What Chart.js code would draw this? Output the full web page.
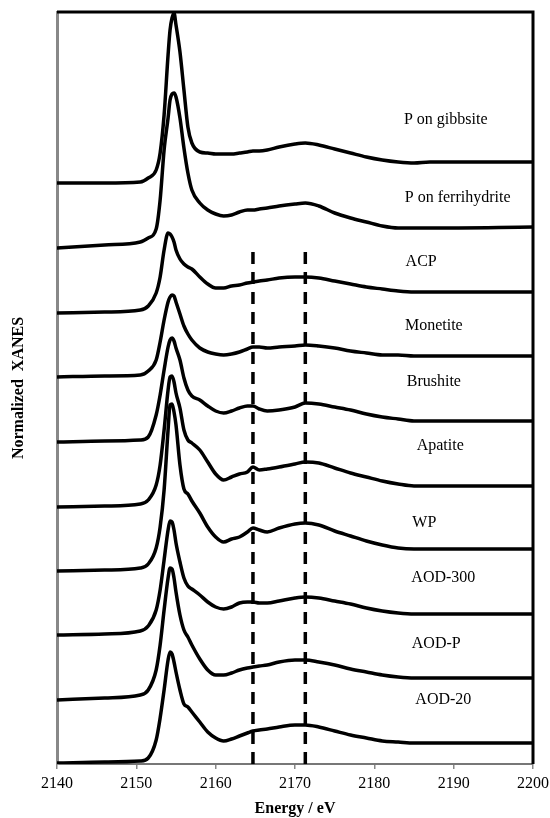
<!DOCTYPE html>
<html><head><meta charset="utf-8">
<script src="https://cdn.jsdelivr.net/npm/chart.js@4/dist/chart.umd.min.js"></script>
<style>html,body{margin:0;padding:0;background:#fff}#wrap{width:550px;height:818px}</style>
</head><body><div id="wrap"><canvas id="c" width="550" height="818"></canvas></div>
<script>
// Energy grid (eV)
const energy = [2140, 2146, 2150.5, 2151.5, 2152.5, 2153, 2153.5, 2154, 2154.25, 2154.5, 2154.75, 2155, 2155.5, 2156, 2156.5, 2157, 2158, 2159, 2160, 2161, 2162, 2163, 2164, 2164.7, 2165.5, 2166.5, 2168, 2170, 2171.3, 2173, 2175, 2177, 2179, 2181, 2183, 2185, 2187, 2200];

// Stacked normalized XANES (offset, arbitrary units)
const pOnGibbsite    = [581, 581, 582, 586, 594, 611, 649, 709, 734, 746, 751, 739, 712, 674, 637, 621, 612, 611, 610, 610, 610, 611, 612, 613, 613, 614, 617, 620, 621, 619, 615, 611, 607, 604, 602, 601, 602, 602];
const pOnFerrihydrite= [516, 519, 522, 526, 535, 564, 614, 646, 664, 670, 671, 667, 646, 616, 591, 574, 561, 554, 550, 548, 549, 552, 554, 554, 555, 556, 558, 560, 561, 558, 551, 546, 542, 538, 536, 536, 536, 537];
const acp            = [451, 452, 454, 458, 471, 487, 514, 531, 530, 527, 522, 514, 505, 500, 497, 495, 487, 480, 476, 476, 478, 479, 481, 482, 483, 484, 486, 487, 487, 486, 483, 480, 477, 475, 473, 472, 472, 472];
const monetite       = [387, 388, 389, 393, 404, 422, 444, 462, 467, 469, 468, 462, 450, 438, 430, 424, 416, 412, 410, 409, 410, 412, 415, 417, 417, 416, 417, 418, 419, 418, 416, 413, 411, 409, 409, 408, 408, 408];
const brushite       = [322, 323, 324, 327, 349, 369, 394, 417, 424, 426, 423, 416, 404, 386, 374, 368, 364, 358, 353, 351, 353, 356, 358, 358, 355, 353, 354, 357, 361, 360, 357, 354, 350, 347, 345, 343, 343, 343];
const apatite        = [257, 258, 260, 264, 279, 299, 334, 374, 387, 388, 382, 371, 356, 334, 324, 321, 314, 302, 290, 284, 287, 290, 292, 297, 294, 295, 297, 300, 302, 301, 296, 291, 287, 283, 280, 278, 278, 278];
const wp             = [193, 194, 196, 200, 216, 237, 274, 334, 359, 360, 352, 339, 299, 275, 270, 263, 251, 237, 227, 222, 225, 227, 232, 236, 234, 232, 236, 240, 241, 239, 233, 228, 223, 219, 216, 215, 215, 215];
const aod300         = [129, 130, 133, 138, 154, 174, 204, 234, 243, 242, 234, 221, 202, 186, 178, 175, 169, 162, 157, 155, 157, 161, 162, 162, 161, 161, 163, 166, 167, 166, 163, 160, 156, 153, 151, 150, 150, 150];
const aodP           = [64, 66, 69, 74, 94, 119, 154, 186, 196, 195, 186, 172, 149, 134, 127, 119, 105, 94, 89, 89, 91, 94, 96, 97, 98, 99, 102, 104, 104, 102, 99, 95, 92, 89, 87, 86, 86, 86];
const aod20          = [1, 2, 3, 6, 24, 46, 74, 104, 112, 110, 102, 92, 74, 60, 57, 52, 42, 32, 26, 23, 25, 28, 31, 33, 34, 35, 37, 39, 39, 37, 33, 29, 26, 23, 22, 21, 21, 21];

const seriesNames = ['P on gibbsite', 'P on ferrihydrite', 'ACP', 'Monetite', 'Brushite', 'Apatite', 'WP', 'AOD-300', 'AOD-P', 'AOD-20'];
const seriesValues = [pOnGibbsite, pOnFerrihydrite, acp, monetite, brushite, apatite, wp, aod300, aodP, aod20];

const xTicks = [2140, 2150, 2160, 2170, 2180, 2190, 2200];
const dashedEnergies = [2164.7, 2171.3];
const dashedSpan = [0, 517];

// Label anchor points (energy, height) for the series names
const labelAnchorE = [2189.0, 2190.5, 2185.9, 2187.5, 2187.5, 2188.3, 2186.3, 2188.7, 2187.8, 2188.7];
const labelAnchorY = [644, 566, 502, 438, 382, 318, 241, 186, 120, 64];

const datasets = [];
dashedEnergies.forEach(e => {
  datasets.push({
    data: dashedSpan.map(v => ({x: e, y: v})),
    borderColor: '#000', borderWidth: 3.5, borderDash: [12, 8], borderCapStyle: 'butt',
    pointRadius: 0, fill: false
  });
});
seriesValues.forEach((vals, k) => {
  datasets.push({
    label: seriesNames[k],
    data: energy.map((e, i) => ({x: e, y: vals[i]})),
    borderColor: '#000', borderWidth: 3.5, pointRadius: 0, fill: false,
    cubicInterpolationMode: 'monotone', borderJoinStyle: 'round', borderCapStyle: 'round'
  });
});

const framePlugin = {
  id: 'frame',
  afterDatasetsDraw(chart) {
    const {ctx, chartArea: a, scales} = chart;
    ctx.save();
    ctx.strokeStyle = '#000';
    ctx.lineWidth = 3;
    ctx.beginPath();
    ctx.moveTo(a.left, a.top); ctx.lineTo(a.right, a.top); ctx.lineTo(a.right, a.bottom);
    ctx.stroke();
    ctx.fillStyle = '#000';
    ctx.font = '16px "Liberation Serif", "Times New Roman", serif';
    ctx.textAlign = 'center';
    ctx.textBaseline = 'middle';
    seriesNames.forEach((n, k) => {
      ctx.fillText(n, scales.x.getPixelForValue(labelAnchorE[k]), scales.y.getPixelForValue(labelAnchorY[k]));
    });
    ctx.restore();
  }
};

new Chart(document.getElementById('c'), {
  type: 'line',
  data: {datasets},
  options: {
    responsive: false, animation: false, devicePixelRatio: 1,
    layout: {padding: {top: 12, right: 17, bottom: 0, left: 0}},
    plugins: {legend: {display: false}, tooltip: {enabled: false}},
    scales: {
      x: {
        type: 'linear', min: 2140, max: 2200,
        afterBuildTicks: s => { s.ticks = xTicks.map(v => ({value: v})); },
        afterFit: s => { s.height = 54; s.paddingLeft = 0; s.paddingRight = 0; },
        ticks: {color: '#000', font: {family: '"Liberation Serif", serif', size: 16}, padding: 5, maxRotation: 0, callback: v => String(v)},
        grid: {display: true, drawOnChartArea: false, drawTicks: true, tickLength: 5, color: '#888', lineWidth: 1.5},
        border: {display: true, color: '#777', width: 2},
        title: {display: true, text: 'Energy / eV', color: '#000', font: {family: '"Liberation Serif", serif', size: 16, weight: 'bold', lineHeight: 1.2}, padding: {top: 0, bottom: 0}}
      },
      y: {
        type: 'linear', min: 0, max: 752,
        afterFit: s => { s.width = 57; s.paddingTop = 0; s.paddingBottom = 0; },
        ticks: {display: false},
        grid: {display: false},
        border: {display: true, color: '#888', width: 3},
        title: {display: true, text: 'Normalized  XANES', color: '#000', font: {family: '"Liberation Serif", serif', size: 16, weight: 'bold', lineHeight: 1.2}, padding: {top: 9, bottom: 0}}
      }
    }
  },
  plugins: [framePlugin]
});
</script>
</body></html>
